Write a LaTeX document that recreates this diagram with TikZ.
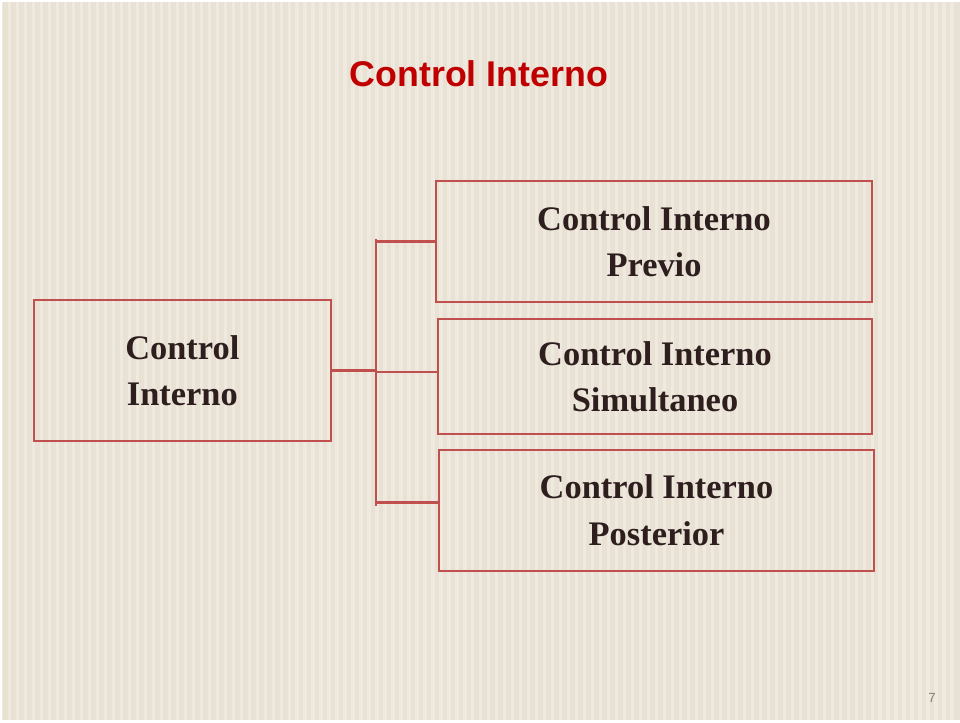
\documentclass[tikz,border=0pt]{standalone}
\usepackage{fontspec}
\setmainfont{Liberation Serif}
\setsansfont{Liberation Sans}
\definecolor{paper}{HTML}{E8E1D4}
\definecolor{boxred}{HTML}{C0504D}
\definecolor{titlered}{HTML}{C00000}
\definecolor{ink}{HTML}{2E1E1E}
\tikzset{
  kind/.style={draw=boxred,line width=1.5pt,
    font=\bfseries\fontsize{26}{35}\selectfont,text=ink,align=center},
  branch/.style={draw=boxred,line width=2pt}
}
\begin{document}
\begin{tikzpicture}[x=0.0265cm,y=-0.0265cm]
				\fill[paper] (0,0) rectangle (960,720);
				\foreach \x in {0,8,...,952}
				\draw[white,opacity=0.3,line width=2.5pt] (\x,0) -- (\x,720);
				\node[font=\sffamily\bfseries\fontsize{27}{30}\selectfont,text=titlered] (title) at (478,72) {Control Interno};
				\node[kind,minimum width=298*0.0265cm,minimum height=141*0.0265cm] (main) at (181,369.5) {Control\\Interno};
				\node[kind,minimum width=437*0.0265cm,minimum height=121*0.0265cm] (previo) at (653.5,240.5) {Control Interno\\Previo};
				\node[kind,minimum width=435*0.0265cm,minimum height=115*0.0265cm] (simul) at (654.5,375.5) {Control Interno\\Simultaneo};
				\node[kind,minimum width=436*0.0265cm,minimum height=121*0.0265cm] (post) at (656,509.5) {Control Interno\\Posterior};
				\coordinate (top) at (375,238);
				\coordinate (bottom) at (375,505);
				\draw[branch] (top) -- (bottom);
				\draw[branch] (main.east) -- (main.east -| top);
				\draw[branch] (375,240) -- (previo.west |- 0,240);
				\draw[branch] (375,371) -- (simul.west |- 0,371);
				\draw[branch] (375,502) -- (post.west |- 0,502);
				\node[font=\sffamily\fontsize{10}{12}\selectfont,text=gray] (page) at (932,697) {7};
\end{tikzpicture}
\end{document}
